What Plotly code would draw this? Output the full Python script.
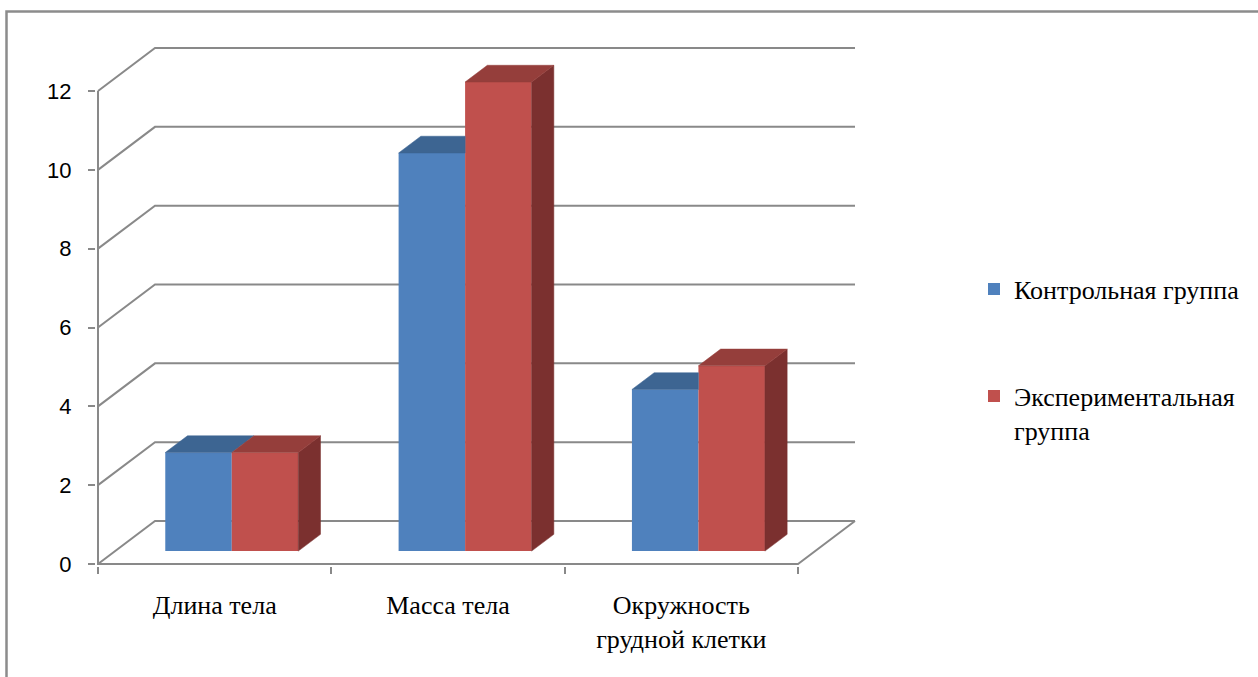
import plotly.graph_objects as go

# ---------------- data ----------------
categories = ["Длина тела", "Масса тела", "Окружность<br>грудной клетки"]
series_names = ["Контрольная группа", "Экспериментальная<br>группа"]
control = [2.5, 10.1, 4.1]
experimental = [2.5, 11.9, 4.7]
y_ticks = [0, 2, 4, 6, 8, 10, 12]

# ---------------- style / geometry ----------------
W, H = 1258, 677
FRONT_LEFT_PX = 98.0
CAT_PX = 700.0 / 3
FLOOR_PX = 564.0
UNIT_PX = (564.0 - 91.0) / 12
DEPTH_PX = (57.0, 43.0)
PLOT_L, PLOT_R, PLOT_T, PLOT_B = 96, 860, 40, 566

GRID = "#898989"
FRONT = ["#4f81bd", "#c0504d"]
TOP = ["#3d6592", "#953e3b"]
SIDE = ["#2f4f74", "#7b302f"]
SERIF = "'Liberation Serif', 'DejaVu Serif', 'Times New Roman', serif"
SANS = "'Liberation Sans', Arial, sans-serif"


def x_of_px(px):
    return (px - (FRONT_LEFT_PX + CAT_PX / 2)) / CAT_PX


def v_of_px(py):
    return (FLOOR_PX - py) / UNIT_PX


DX = DEPTH_PX[0] / CAT_PX
DY = DEPTH_PX[1] / UNIT_PX
BAR_W = 66.5 / CAT_PX
F0 = 0.30   # depth of bar front face
FD = 0.39   # bar depth
n = len(categories)
x_min, x_max = -0.5, n - 0.5
ymax = max(y_ticks)

fig = go.Figure()

# wireframe (walls / floor) as shapes below traces
shapes = []
for g in y_ticks:
    shapes.append(dict(
        type="path", xref="x", yref="y", layer="below",
        path=f"M{x_min},{g} L{x_min + DX},{g + DY} L{x_max + DX},{g + DY}",
        line=dict(color=GRID, width=2)))
shapes.append(dict(
    type="path", xref="x", yref="y", layer="below",
    path=f"M{x_min},{ymax} L{x_min},0 L{x_max},0 L{x_max + DX},{DY}",
    line=dict(color=GRID, width=2)))
# outer chart border
shapes.append(dict(
    type="rect", xref="paper", yref="paper",
    x0=(6.5 - PLOT_L) / (PLOT_R - PLOT_L), x1=(W + 10 - PLOT_L) / (PLOT_R - PLOT_L),
    y0=(PLOT_B - (H + 10)) / (PLOT_B - PLOT_T), y1=(PLOT_B - 11.5) / (PLOT_B - PLOT_T),
    line=dict(color="#8c8c8c", width=2.5), fillcolor="rgba(0,0,0,0)"))

series = [control, experimental]
base = F0 * DY
dxb, dyb = FD * DX, FD * DY

# front faces as real bars
for s, vals in enumerate(series):
    xc = [i + F0 * DX + (s - 0.5) * BAR_W for i in range(n)]
    fig.add_trace(go.Bar(
        x=xc, y=vals, base=[base] * n, width=[BAR_W] * n,
        marker=dict(color=FRONT[s], line=dict(width=0)),
        name=series_names[s], legend="legend" if s == 0 else "legend2",
        hoverinfo="skip"))

# top and side faces
for i in range(n):
    for s, vals in enumerate(series):
        xl = i + F0 * DX + (s - 1) * BAR_W
        xr = xl + BAR_W
        t = base + vals[i]
        if s < len(series) - 1:
            yr = base + series[s + 1][i]
            if yr <= t:
                px = [xl, xr, xr + dxb, xl + dxb]
                py = [t, t, t + dyb, t + dyb]
            elif yr >= t + dyb:
                px = [xl, xr, xr, xl + dxb]
                py = [t, t, t + dyb, t + dyb]
            else:
                fr = (yr - t) / dyb
                px = [xl, xr, xr, xr + dxb * fr, xr + dxb, xl + dxb]
                py = [t, t, yr, yr, t + dyb, t + dyb]
        else:
            px = [xl, xr, xr + dxb, xl + dxb]
            py = [t, t, t + dyb, t + dyb]
            # side face
            fig.add_trace(go.Scatter(
                x=[xr, xr + dxb, xr + dxb, xr, xr],
                y=[base, base + dyb, t + dyb, t, base],
                mode="lines", fill="toself", fillcolor=SIDE[s],
                line=dict(color=SIDE[s], width=0.5),
                showlegend=False, hoverinfo="skip"))
        fig.add_trace(go.Scatter(
            x=px + [px[0]], y=py + [py[0]],
            mode="lines", fill="toself", fillcolor=TOP[s],
            line=dict(color=TOP[s], width=0.5),
            showlegend=False, hoverinfo="skip"))

pw = PLOT_R - PLOT_L
ph = PLOT_B - PLOT_T

fig.update_layout(
    width=W, height=H,
    margin=dict(l=PLOT_L, r=W - PLOT_R, t=PLOT_T, b=H - PLOT_B, pad=0),
    paper_bgcolor="white", plot_bgcolor="white",
    barmode="overlay", shapes=shapes,
    xaxis=dict(
        range=[x_of_px(PLOT_L), x_of_px(PLOT_R)],
        tickmode="array", tickvals=list(range(n)), ticktext=categories,
        ticks="", showgrid=False, zeroline=False, showline=False,
        tickfont=dict(family=SERIF, size=26, color="black"),
        ticklabelstandoff=21,
        minor=dict(tickmode="array",
                   tickvals=[x_min + k for k in range(n + 1)],
                   ticks="outside", ticklen=7, tickwidth=2,
                   tickcolor=GRID, showgrid=False),
        fixedrange=True),
    yaxis=dict(
        range=[v_of_px(PLOT_B), v_of_px(PLOT_T)],
        tickmode="array", tickvals=y_ticks,
        ticks="outside", ticklen=7, tickwidth=2, tickcolor=GRID,
        showgrid=False, zeroline=False, showline=False,
        tickfont=dict(family=SANS, size=22, color="black"),
        ticklabelstandoff=12,
        fixedrange=True),
    legend=dict(
        x=(974 - PLOT_L) / pw, xanchor="left",
        y=(PLOT_B - 289) / ph, yanchor="middle",
        font=dict(family=SERIF, size=26, color="black"),
        bgcolor="rgba(0,0,0,0)", borderwidth=0),
    legend2=dict(
        x=(974 - PLOT_L) / pw, xanchor="left",
        y=(PLOT_B - 413) / ph, yanchor="middle", valign="top",
        font=dict(family=SERIF, size=26, color="black"),
        bgcolor="rgba(0,0,0,0)", borderwidth=0),
)

fig.write_html("out.html")
